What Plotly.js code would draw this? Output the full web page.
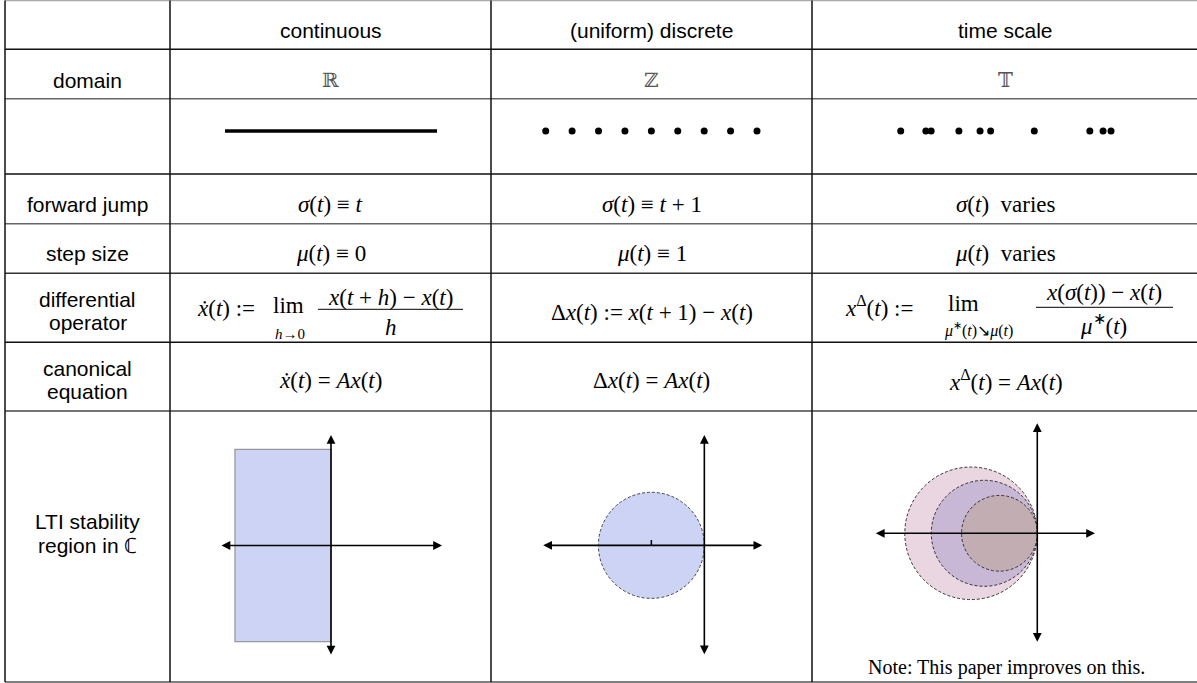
<!DOCTYPE html>
<html>
<head>
<meta charset="utf-8">
<script src="https://cdn.plot.ly/plotly-3.0.1.min.js"></script>
<style>
  html, body { margin: 0; padding: 0; background: #fff; }
  #chart { width: 1197px; height: 683px; }
</style>
</head>
<body>
<div id="chart"></div>
<script>
const W = 1197, H = 683;

// ---- table content ----
const columnHeads = ["continuous", "(uniform) discrete", "time scale"];
const rowLabels = [
  ["domain"], [], ["forward jump"], ["step size"],
  ["differential", "operator"], ["canonical", "equation"], ["LTI stability", "region in ℂ"]
];
const domainSets = ["ℝ", "ℤ", "𝕋"];
const forwardJump = [
  "<i>σ</i>(<i>t</i>) ≡ <i>t</i>",
  "<i>σ</i>(<i>t</i>) ≡ <i>t</i> + 1",
  "<i>σ</i>(<i>t</i>)\u2002varies"
];
const stepSize = [
  "<i>μ</i>(<i>t</i>) ≡ 0",
  "<i>μ</i>(<i>t</i>) ≡ 1",
  "<i>μ</i>(<i>t</i>)\u2002varies"
];
const contOperator = {
  lhs: "<i>ẋ</i>(<i>t</i>) :=",
  lim: "lim",
  sub: "<i>h</i>→0",
  num: "<i>x</i>(<i>t</i> + <i>h</i>) − <i>x</i>(<i>t</i>)",
  den: "<i>h</i>"
};
const discOperator = "Δ<i>x</i>(<i>t</i>) := <i>x</i>(<i>t</i> + 1) − <i>x</i>(<i>t</i>)";
const tsOperator = {
  lhs: "<i>x</i><sup>Δ</sup>(<i>t</i>) :=",
  lim: "lim",
  sub: "<i>μ</i><sup>∗</sup>(<i>t</i>)↘<i>μ</i>(<i>t</i>)",
  num: "<i>x</i>(<i>σ</i>(<i>t</i>)) − <i>x</i>(<i>t</i>)",
  den: "<i>μ</i><sup>∗</sup>(<i>t</i>)"
};
const canonical = [
  "<i>ẋ</i>(<i>t</i>) = <i>Ax</i>(<i>t</i>)",
  "Δ<i>x</i>(<i>t</i>) = <i>Ax</i>(<i>t</i>)",
  "<i>x</i><sup>Δ</sup>(<i>t</i>) = <i>Ax</i>(<i>t</i>)"
];
const noteText = "Note: This paper improves on this.";

// ---- domains ----
const realLine = [-1, 1];
const integers = [-4, -3, -2, -1, 0, 1, 2, 3, 4];
const timeScale = [0, 0.95, 1.15, 2.2, 3.0, 3.4, 5.05, 7.15, 7.65, 7.95];

// ---- stability regions (complex plane) ----
const ctRe = [-1, 0];
const ctIm = [-1, 1];
const dtCenter = -1;
const dtRadius = 1;
const tsMu = [0.8, 1, 1.4];

// ---- layout geometry (pixels) ----
const rowEdges = [0.5, 49.3, 98.7, 174, 223.7, 273.3, 342.3, 411, 682];
const colEdges = [5, 170, 491, 812, 1199];
const hLineColor = ["#aaa", "#111", "#666", "#111", "#666", "#333", "#111", "#444", "#555"];
const colX = [87.5, 330.5, 651.5, 1005.5];
const labelY = [[80], [], [204], [253], [299, 322], [368, 391], [521, 545]];

const SANS = "Liberation Sans, Arial, sans-serif";
const SERIF = "Liberation Serif, Times New Roman, serif";
const MATH = 23;

let shapes = [];
let annotations = [];

function txt(x, y, text, size, family, color) {
  return {
    xref: "x", yref: "y", x: x, y: y, text: text, showarrow: false,
    xanchor: "center", yanchor: "middle",
    font: { family: family, size: size, color: color || "#000" }
  };
}

// grid
rowEdges.forEach((y, i) => {
  shapes.push({ type: "line", xref: "x", yref: "y", x0: colEdges[0], x1: colEdges[4], y0: y, y1: y,
    line: { color: hLineColor[i], width: 1.5 } });
});
colEdges.slice(0, 4).forEach((x) => {
  shapes.push({ type: "line", xref: "x", yref: "y", x0: x, x1: x, y0: rowEdges[0], y1: rowEdges[8],
    line: { color: "#111", width: 1.5 } });
});

// headers and row labels
columnHeads.forEach((h, i) => annotations.push(txt(colX[i + 1], 30, h, 21, SANS)));
rowLabels.forEach((lines, r) => {
  lines.forEach((l, k) => annotations.push(txt(colX[0], labelY[r][k], l, 21, SANS)));
});

// math rows
domainSets.forEach((s, i) => annotations.push(txt(colX[i + 1], 80, s, 20, "DejaVu Serif, DejaVu Sans", "#555")));
forwardJump.forEach((s, i) => annotations.push(txt(colX[i + 1], 204, s, MATH, SERIF)));
stepSize.forEach((s, i) => annotations.push(txt(colX[i + 1], 253, s, MATH, SERIF)));
canonical.forEach((s, i) => annotations.push(txt(colX[i + 1], 380, s, MATH, SERIF)));

// differential operator, continuous
annotations.push(txt(226, 308, contOperator.lhs, MATH, SERIF));
annotations.push(txt(288.5, 305, contOperator.lim, MATH, SERIF));
annotations.push(txt(290, 334, contOperator.sub, 15, SERIF));
annotations.push(txt(390.5, 297, contOperator.num, MATH, SERIF));
annotations.push(txt(390.5, 327, contOperator.den, MATH, SERIF));
shapes.push({ type: "line", xref: "x", yref: "y", x0: 318, x1: 463, y0: 309.3, y1: 309.3, line: { color: "#000", width: 1 } });

// differential operator, discrete
annotations.push(txt(colX[2], 312, discOperator, MATH, SERIF));

// differential operator, time scale
annotations.push(txt(879, 306, tsOperator.lhs, MATH, SERIF));
annotations.push(txt(963, 303, tsOperator.lim, MATH, SERIF));
annotations.push(txt(978.5, 329, tsOperator.sub, 16, SERIF));
annotations.push(txt(1104, 292, tsOperator.num, MATH, SERIF));
annotations.push(txt(1103, 324, tsOperator.den, MATH, SERIF));
shapes.push({ type: "line", xref: "x", yref: "y", x0: 1036, x1: 1173, y0: 307.3, y1: 307.3, line: { color: "#000", width: 1 } });

annotations.push(txt(1006, 667, noteText, 20, SERIF));

// ---- sub panels ----
let layout = {
  width: W, height: H,
  margin: { l: 0, r: 0, t: 0, b: 0 },
  paper_bgcolor: "#fff", plot_bgcolor: "rgba(0,0,0,0)",
  showlegend: false,
  xaxis: { range: [0, W], visible: false, fixedrange: true, domain: [0, 1] },
  yaxis: { range: [H, 0], visible: false, fixedrange: true, domain: [0, 1] }
};

function panel(id, x0, x1, y0, y1, xr, yr) {
  layout["xaxis" + id] = { domain: [x0 / W, x1 / W], range: xr, visible: false, fixedrange: true, anchor: "y" + id };
  layout["yaxis" + id] = { domain: [1 - y1 / H, 1 - y0 / H], range: yr, visible: false, fixedrange: true, anchor: "x" + id };
}

panel(2, 225, 437, 120, 142, [-1, 1], [-1, 1]);
panel(3, 545.7, 757, 120, 142, [-4, 4], [-1, 1]);
panel(4, 900.7, 1111, 120, 142, [0, 7.95], [-1, 1]);
panel(5, 220, 442, 435, 656, [-1.156, 1.156], [-1.15, 1.15]);
panel(6, 541.7, 762.3, 435, 655.7, [-3.07, 1.094], [-2.08, 2.08]);
panel(7, 874.3, 1095, 423.3, 643.3, [-3.075, 1.089], [-2.075, 2.075]);

const REGION_BLUE = "#cdd3f5";

// continuous region: left half strip
shapes.push({ type: "rect", xref: "x5", yref: "y5", x0: ctRe[0], x1: ctRe[1], y0: ctIm[0], y1: ctIm[1],
  fillcolor: REGION_BLUE, line: { color: "#999", width: 1.3 }, layer: "below" });

// discrete region: unit disc around -1
shapes.push({ type: "circle", xref: "x6", yref: "y6",
  x0: dtCenter - dtRadius, x1: dtCenter + dtRadius, y0: -dtRadius, y1: dtRadius,
  fillcolor: REGION_BLUE, line: { color: "#444", width: 1, dash: "3px,2px" }, layer: "below" });

// time scale regions: discs of radius 1/mu through the origin
const tsColors = ["#e9d6e0", "#c9b7d6", "#c2adb2"];
tsMu.forEach((mu, i) => {
  const r = 1 / mu;
  shapes.push({ type: "circle", xref: "x7", yref: "y7", x0: -2 * r, x1: 0, y0: -r, y1: r,
    fillcolor: tsColors[i], line: { color: "#333", width: 1, dash: "3px,2px" }, layer: "below" });
});

// axes arrows
[5, 6, 7].forEach((id) => {
  const xr = layout["xaxis" + id].range, yr = layout["yaxis" + id].range;
  const base = { xref: "x" + id, yref: "y" + id, axref: "x" + id, ayref: "y" + id, text: "",
    showarrow: true, arrowside: "end+start", arrowhead: 2, arrowsize: 1.1, arrowwidth: 1.6, arrowcolor: "#000",
    standoff: 0, startstandoff: 0 };
  annotations.push(Object.assign({}, base, { x: xr[1], y: 0, ax: xr[0], ay: 0 }));
  annotations.push(Object.assign({}, base, { x: 0, y: yr[1], ax: 0, ay: yr[0] }));
});

const data = [
  { x: [0], y: [0], xaxis: "x", yaxis: "y", mode: "markers", marker: { opacity: 0 }, hoverinfo: "skip" },
  { x: realLine, y: realLine.map(() => 0), xaxis: "x2", yaxis: "y2", mode: "lines", cliponaxis: false,
    line: { color: "#000", width: 3.5 }, hoverinfo: "skip" },
  { x: integers, y: integers.map(() => 0), xaxis: "x3", yaxis: "y3", mode: "markers", cliponaxis: false,
    marker: { color: "#000", size: 7 }, hoverinfo: "skip" },
  { x: timeScale, y: timeScale.map(() => 0), xaxis: "x4", yaxis: "y4", mode: "markers", cliponaxis: false,
    marker: { color: "#000", size: 7 }, hoverinfo: "skip" },
  { x: [0], y: [0], xaxis: "x5", yaxis: "y5", mode: "markers", marker: { opacity: 0 }, hoverinfo: "skip" },
  { x: [dtCenter], y: [0.05], xaxis: "x6", yaxis: "y6", mode: "markers",
    marker: { symbol: "line-ns", size: 4, line: { color: "#000", width: 1.5 } }, hoverinfo: "skip" },
  { x: [0], y: [0], xaxis: "x7", yaxis: "y7", mode: "markers", marker: { opacity: 0 }, hoverinfo: "skip" }
];

layout.shapes = shapes;
layout.annotations = annotations;

Plotly.newPlot("chart", data, layout, { staticPlot: true, displayModeBar: false });
</script>
</body>
</html>
